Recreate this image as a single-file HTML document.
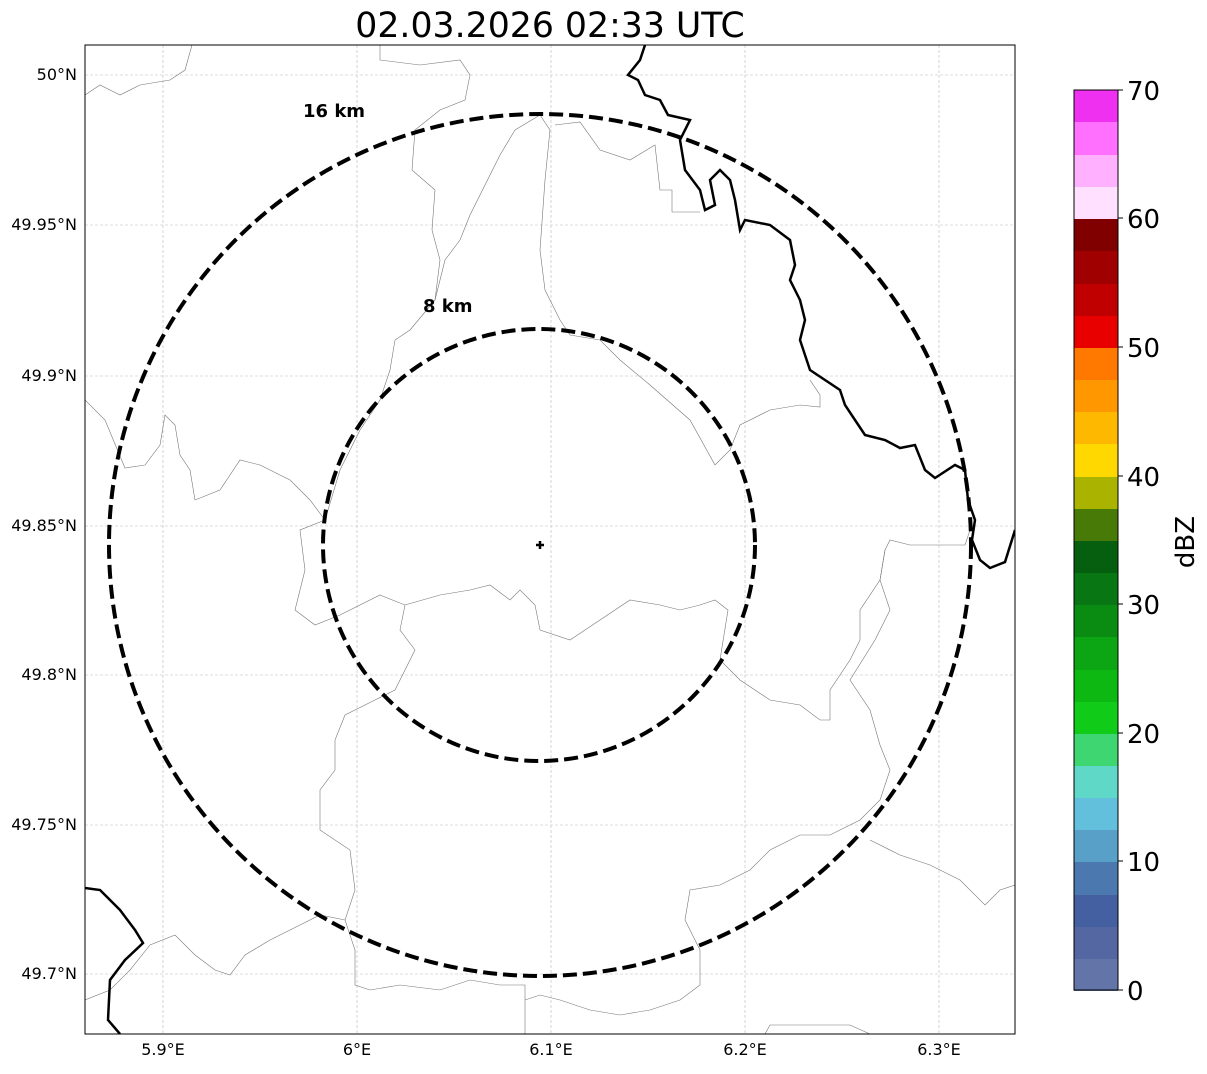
<!DOCTYPE html>
<html><head><meta charset="utf-8"><style>
body{margin:0;background:#fff;}
svg text{font-family:"DejaVu Sans","Liberation Sans",sans-serif;}
</style></head><body>
<svg width="1207" height="1069" viewBox="0 0 1207 1069" xmlns="http://www.w3.org/2000/svg">
<rect width="1207" height="1069" fill="#fff"/>
<text x="550" y="37" font-size="34.7" text-anchor="middle">02.03.2026 02:33 UTC</text>
<defs><clipPath id="c"><rect x="85" y="45" width="930" height="989"/></clipPath></defs>
<g stroke="#bbb" stroke-width="0.6" stroke-dasharray="3,2">
<line x1="163" y1="45" x2="163" y2="1034"/><line x1="357" y1="45" x2="357" y2="1034"/><line x1="551" y1="45" x2="551" y2="1034"/><line x1="745" y1="45" x2="745" y2="1034"/><line x1="939" y1="45" x2="939" y2="1034"/>
<line x1="85" y1="75" x2="1015" y2="75"/><line x1="85" y1="225" x2="1015" y2="225"/><line x1="85" y1="376" x2="1015" y2="376"/><line x1="85" y1="526" x2="1015" y2="526"/><line x1="85" y1="675" x2="1015" y2="675"/><line x1="85" y1="825" x2="1015" y2="825"/><line x1="85" y1="974" x2="1015" y2="974"/>
</g>
<g clip-path="url(#c)" fill="none">
<g stroke="#777" stroke-width="0.6">
<path d="M85,95 L100,85 L120,95 L140,85 L170,80 L185,70 L192,45"/>
<path d="M380,45 L380,60 L420,65 L460,60 L470,75 L465,100 L440,110 L415,130 L412,170 L435,190 L432,230 L440,260 L435,300 L410,330 L395,340 L390,370 L380,400 L360,430 L340,470 L325,520 L300,530 L305,570 L295,610 L315,625 L340,615 L380,595 L405,605 L400,630 L415,650 L395,690 L375,700 L345,715 L335,740 L335,770 L320,790 L320,830 L350,850 L355,890 L345,920 L355,950 L355,985 L370,990 L400,985 L440,990 L470,980 L500,985 L525,985 L525,1034"/>
<path d="M85,400 L105,420 L125,468 L145,465 L160,445 L165,415 L175,425 L180,455 L190,470 L195,500 L220,490 L240,460 L260,465 L290,480 L310,500 L325,520"/>
<path d="M405,605 L440,595 L470,590 L490,585 L510,600 L520,590 L535,605 L540,630 L570,640 L600,620 L630,600 L660,605 L680,610 L700,605 L715,600 L728,610 L720,660 L740,680 L770,700 L800,705 L820,720 L830,720 L830,690 L850,660 L860,640 L860,610 L880,580 L885,550 L890,540 L910,545 L965,545 L970,530"/>
<path d="M540,115 L515,130 L500,155 L485,185 L470,215 L460,240 L445,260 L435,300"/>
<path d="M540,115 L550,130 L545,180 L540,250 L545,290 L560,320 L570,335 L600,340 L620,360 L650,385 L690,420 L715,465 L730,450 L740,425 L770,410 L800,405 L820,407 L820,395 L810,380"/>
<path d="M555,125 L580,122 L600,150 L630,160 L655,145 L660,190 L672,190 L672,212 L700,212"/>
<path d="M885,550 L880,580 L890,610 L875,640 L850,680 L870,710 L880,745 L890,770 L880,800 L860,820 L830,835 L800,835 L770,850 L750,870 L720,885 L690,890 L685,920 L700,950 L700,985 L680,1000 L650,1010 L620,1015 L590,1010 L560,1000 L540,995 L525,1000"/>
<path d="M870,840 L900,855 L930,865 L960,880 L985,905 L1000,890 L1015,885"/>
<path d="M85,1000 L110,990 L130,970 L150,945 L175,935 L195,955 L215,970 L230,975 L245,955 L270,940 L300,925 L320,915 L345,920"/>
<path d="M765,1034 L770,1025 L800,1025 L850,1025 L870,1034"/>
</g>
<g stroke="#000" stroke-width="2.5">
<path d="M645,45 L640,60 L628,75 L638,80 L645,95 L660,100 L668,115 L690,120 L680,140 L685,170 L700,190 L705,210 L715,205 L710,180 L720,170 L730,180 L735,200 L740,230 L745,220 L770,225 L790,240 L795,265 L790,280 L800,300 L805,320 L800,340 L805,355 L810,370 L825,380 L840,390 L845,405 L855,420 L865,435 L885,440 L900,448 L915,445 L925,470 L935,478 L955,465 L965,470 L968,500 L975,520 L972,540 L980,560 L990,568 L1005,562 L1015,530"/>
<path d="M85,888 L100,890 L120,910 L135,930 L143,943 L125,960 L110,980 L108,1020 L120,1034"/>
</g>
</g>
<g fill="none" stroke="#000" stroke-width="4" stroke-dasharray="14,6">
<circle cx="540" cy="545" r="431"/>
<circle cx="539" cy="545" r="216"/>
</g>
<path d="M536,545 h8 M540,541 v8" stroke="#000" stroke-width="2.5"/>
<text x="303" y="117" font-size="18" font-weight="bold">16 km</text>
<text x="423" y="312" font-size="18" font-weight="bold">8 km</text>
<rect x="85" y="45" width="930" height="989" fill="none" stroke="#000" stroke-width="1"/>
<g font-size="16" text-anchor="middle">
<text x="163" y="1055">5.9°E</text><text x="357" y="1055">6°E</text><text x="551" y="1055">6.1°E</text><text x="745" y="1055">6.2°E</text><text x="939" y="1055">6.3°E</text>
</g>
<g font-size="16" text-anchor="end">
<text x="77" y="80">50°N</text><text x="77" y="230">49.95°N</text><text x="77" y="381">49.9°N</text><text x="77" y="531">49.85°N</text><text x="77" y="680">49.8°N</text><text x="77" y="830">49.75°N</text><text x="77" y="979">49.7°N</text>
</g>
<g id="cb">
<rect x="1074" y="958" width="44" height="33" fill="#6375a8"/>
<rect x="1074" y="926" width="44" height="33" fill="#5567a2"/>
<rect x="1074" y="894" width="44" height="33" fill="#4560a0"/>
<rect x="1074" y="862" width="44" height="33" fill="#4c78b0"/>
<rect x="1074" y="829" width="44" height="33" fill="#58a0c8"/>
<rect x="1074" y="797" width="44" height="33" fill="#62c0dc"/>
<rect x="1074" y="765" width="44" height="33" fill="#60d8c8"/>
<rect x="1074" y="733" width="44" height="33" fill="#3ed670"/>
<rect x="1074" y="701" width="44" height="33" fill="#10cc18"/>
<rect x="1074" y="669" width="44" height="33" fill="#0db812"/>
<rect x="1074" y="637" width="44" height="33" fill="#0ca614"/>
<rect x="1074" y="604" width="44" height="33" fill="#0a8c12"/>
<rect x="1074" y="572" width="44" height="33" fill="#087612"/>
<rect x="1074" y="540" width="44" height="33" fill="#055f0e"/>
<rect x="1074" y="508" width="44" height="33" fill="#487a08"/>
<rect x="1074" y="476" width="44" height="33" fill="#aab400"/>
<rect x="1074" y="444" width="44" height="33" fill="#ffd800"/>
<rect x="1074" y="411" width="44" height="33" fill="#ffb800"/>
<rect x="1074" y="379" width="44" height="33" fill="#ff9800"/>
<rect x="1074" y="347" width="44" height="33" fill="#ff7800"/>
<rect x="1074" y="315" width="44" height="33" fill="#e80000"/>
<rect x="1074" y="283" width="44" height="33" fill="#c00000"/>
<rect x="1074" y="251" width="44" height="33" fill="#a00000"/>
<rect x="1074" y="218" width="44" height="33" fill="#800000"/>
<rect x="1074" y="186" width="44" height="33" fill="#ffe0ff"/>
<rect x="1074" y="154" width="44" height="33" fill="#ffb0ff"/>
<rect x="1074" y="122" width="44" height="33" fill="#ff70ff"/>
<rect x="1074" y="90" width="44" height="32" fill="#f030f0"/>
<rect x="1074" y="90" width="44" height="900" fill="none" stroke="#000" stroke-width="1"/>
</g>
<g stroke="#000" stroke-width="1">
<line x1="1118" y1="990" x2="1123" y2="990"/><line x1="1118" y1="861" x2="1123" y2="861"/><line x1="1118" y1="733" x2="1123" y2="733"/><line x1="1118" y1="604" x2="1123" y2="604"/><line x1="1118" y1="476" x2="1123" y2="476"/><line x1="1118" y1="347" x2="1123" y2="347"/><line x1="1118" y1="218" x2="1123" y2="218"/><line x1="1118" y1="90" x2="1123" y2="90"/>
</g>
<g font-size="26">
<text x="1127" y="1000">0</text><text x="1127" y="871">10</text><text x="1127" y="743">20</text><text x="1127" y="614">30</text><text x="1127" y="486">40</text><text x="1127" y="357">50</text><text x="1127" y="228">60</text><text x="1127" y="100">70</text>
</g>
<text x="1194" y="542" font-size="26" text-anchor="middle" transform="rotate(-90 1194 542)">dBZ</text>
</svg>
</body></html>
